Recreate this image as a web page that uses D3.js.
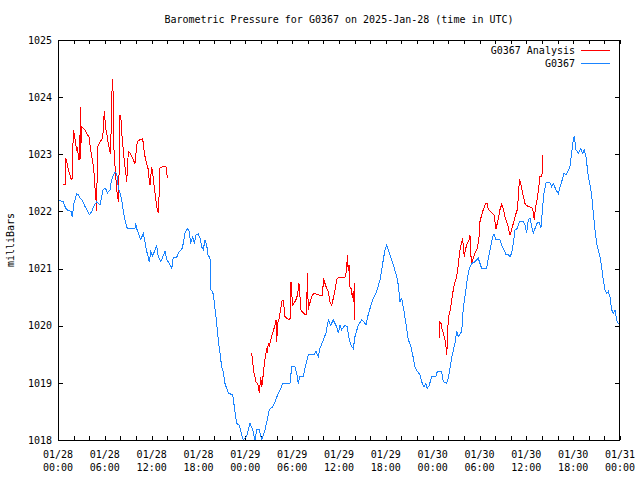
<!DOCTYPE html>
<html>
<head>
<meta charset="utf-8">
<script src="https://cdn.jsdelivr.net/npm/d3@7"></script>
<style>
html, body { margin: 0; padding: 0; background: #fff; }
svg { display: block; }
text { font-family: "DejaVu Sans Mono", "Liberation Mono", monospace; font-size: 10px; fill: #000; }
</style>
</head>
<body>
<div id="chart"></div>
<script>
// ---- data (hours since 2025-01-28 00:00 UTC, pressure in millibars) ----
const titleText = "Barometric Pressure for G0367 on 2025-Jan-28 (time in UTC)";
const yLabelText = "milliBars";
const seriesNames = ["G0367 Analysis", "G0367"];
const yTicks = [1018, 1019, 1020, 1021, 1022, 1023, 1024, 1025];
const xTickHours = [0, 6, 12, 18, 24, 30, 36, 42, 48, 54, 60, 66, 72];
const xTickDates = ["01/28","01/28","01/28","01/28","01/29","01/29","01/29","01/29","01/30","01/30","01/30","01/30","01/31"];
const xTickTimes = ["00:00","06:00","12:00","18:00","00:00","06:00","12:00","18:00","00:00","06:00","12:00","18:00","00:00"];

const obsHours = [0,0.68,0.81,1.11,1.67,1.83,2.05,2.40,2.60,2.82,3.11,3.37,3.68,4.01,4.32,4.65,4.96,5.38,5.68,5.80,6.11,6.32,6.66,6.79,7.01,7.30,7.52,7.72,7.94,8.16,8.37,8.58,8.88,9.86,9.95,10.08,10.29,10.59,10.93,11.15,11.36,11.57,11.70,11.88,12.13,12.43,12.64,12.85,13.16,13.41,13.71,13.93,14.13,14.35,14.57,14.77,15.21,15.54,15.85,16.05,16.27,16.56,16.82,17.00,17.26,17.46,17.68,17.97,18.19,18.41,18.61,18.83,19.05,19.25,19.47,19.56,19.82,19.98,20.24,20.54,20.75,20.97,21.18,21.39,21.82,22.38,22.59,22.89,23.23,23.53,23.74,24.17,24.60,24.94,25.24,25.46,25.79,26.10,26.52,26.81,27.07,27.50,27.80,28.22,28.53,28.79,29.72,29.94,30.36,30.58,30.78,31.00,31.42,31.64,32.07,32.80,33.05,33.35,33.56,33.99,34.33,34.63,34.93,35.27,35.70,35.91,36.13,36.34,36.77,37.06,37.32,37.62,37.83,38.05,38.47,38.91,39.20,39.46,39.68,39.97,40.39,40.83,41.25,41.60,41.89,42.11,42.44,42.75,43.04,43.39,43.60,43.81,44.03,44.33,44.58,44.88,45.18,45.44,45.73,46.03,46.38,46.59,46.89,47.14,47.31,47.57,47.87,48.42,48.59,49.15,49.36,49.80,50.05,50.31,50.56,50.86,51.08,51.28,51.72,51.92,52.14,52.36,52.56,52.78,53.00,53.42,53.84,54.06,54.28,54.92,55.12,55.43,55.69,55.85,56.11,56.62,56.84,57.14,57.39,57.69,57.90,58.12,58.33,58.55,58.84,59.10,59.61,59.83,60.04,60.25,60.47,60.69,60.89,61.11,61.40,61.66,61.88,62.09,62.26,62.52,63.03,63.25,63.45,63.80,64.09,64.31,64.53,64.82,65.08,65.30,65.59,65.81,66.01,66.14,66.36,66.65,66.96,67.22,67.42,67.64,67.94,68.15,68.37,68.58,68.79,69.01,69.22,69.43,69.65,69.86,70.07,70.29,70.50,70.71,70.93,71.14,71.36,71.57,71.78,72.00];
const obsPressure = [1022.20,1022.17,1022.11,1022.03,1022.00,1021.91,1022.14,1022.31,1022.29,1022.23,1022.20,1022.11,1022.03,1021.94,1022.00,1022.11,1022.17,1022.11,1022.32,1022.39,1022.40,1022.32,1022.38,1022.49,1022.61,1022.68,1022.67,1022.43,1022.32,1022.20,1022.00,1021.85,1021.70,1021.70,1021.80,1021.70,1021.62,1021.51,1021.61,1021.47,1021.30,1021.21,1021.11,1021.30,1021.22,1021.33,1021.40,1021.21,1021.12,1021.20,1021.30,1021.15,1021.12,1021.06,1021.00,1021.20,1021.20,1021.30,1021.33,1021.44,1021.62,1021.70,1021.65,1021.44,1021.56,1021.44,1021.59,1021.61,1021.53,1021.38,1021.33,1021.50,1021.41,1021.21,1021.20,1020.63,1020.60,1020.45,1020.16,1019.75,1019.52,1019.28,1019.20,1018.99,1018.82,1018.79,1018.58,1018.29,1018.26,1018.09,1018.00,1018.06,1018.29,1018.18,1018.00,1018.18,1018.18,1018.00,1018.18,1018.35,1018.53,1018.58,1018.67,1018.82,1018.90,1018.99,1018.99,1019.28,1019.28,1019.17,1018.99,1019.11,1019.11,1019.25,1019.49,1019.49,1019.55,1019.46,1019.60,1019.75,1019.87,1020.10,1020.01,1020.10,1019.98,1019.87,1020.01,1019.93,1020.01,1019.98,1019.75,1019.63,1019.60,1019.81,1020.01,1020.10,1020.07,1020.01,1020.16,1020.30,1020.48,1020.60,1020.80,1021.09,1021.33,1021.41,1021.27,1021.15,1021.03,1020.86,1020.71,1020.42,1020.48,1020.25,1020.04,1019.75,1019.66,1019.49,1019.28,1019.20,1019.14,1019.02,1018.93,1018.99,1018.90,1018.96,1019.11,1019.11,1019.20,1019.20,1019.02,1018.99,1019.11,1019.34,1019.52,1019.69,1019.90,1019.81,1019.90,1020.30,1020.51,1020.74,1020.92,1021.03,1021.09,1021.12,1021.18,1021.09,1021.00,1021.00,1021.18,1021.38,1021.56,1021.60,1021.51,1021.51,1021.41,1021.33,1021.24,1021.24,1021.21,1021.27,1021.44,1021.68,1021.70,1021.82,1021.82,1021.76,1021.62,1021.85,1021.88,1021.73,1021.62,1021.70,1021.80,1021.80,1021.72,1022.08,1022.32,1022.50,1022.50,1022.43,1022.49,1022.38,1022.31,1022.43,1022.52,1022.67,1022.64,1022.70,1022.78,1023.02,1023.25,1023.31,1023.08,1023.02,1023.10,1023.02,1023.08,1022.96,1022.61,1022.46,1022.29,1021.97,1021.68,1021.44,1021.33,1021.21,1021.03,1020.80,1020.63,1020.57,1020.60,1020.51,1020.28,1020.22,1020.28,1020.10,1020.04,1020.01];

// null marks a gap between analysis runs
const anaHours = [0.60,0.90,0.99,1.11,1.32,1.54,1.67,1.83,1.96,2.09,2.27,2.40,2.47,2.60,2.69,2.73,2.82,2.91,2.98,3.04,3.24,3.46,3.75,3.97,4.10,4.32,4.52,4.65,4.78,4.87,4.96,5.05,5.16,5.38,5.73,5.93,6.02,6.15,6.32,6.44,6.66,6.75,6.83,6.96,7.05,7.08,7.21,7.39,7.52,7.65,7.72,7.81,7.85,7.94,8.07,8.16,8.29,8.37,8.58,8.71,8.80,8.93,9.01,9.22,9.44,9.65,9.86,9.99,10.16,10.42,10.85,11.02,11.15,11.36,11.57,11.70,11.79,12.00,12.13,12.30,12.43,12.64,12.85,12.98,13.07,13.49,13.84,13.93,14.00,
  null,
  24.81,24.94,25.11,25.37,25.66,25.79,25.97,26.10,26.22,26.39,26.56,26.74,26.81,26.94,27.07,27.25,27.50,27.80,27.93,28.02,28.14,28.35,28.53,28.73,28.86,29.08,29.30,29.72,29.85,29.94,30.07,30.23,30.58,30.78,30.87,31.00,31.13,31.22,31.64,31.86,31.94,32.07,32.19,32.50,32.80,33.35,33.91,33.99,34.20,34.42,34.63,34.85,35.06,35.27,35.49,35.70,35.91,36.77,36.99,37.06,37.19,37.28,37.41,37.62,37.70,37.83,37.92,37.96,38.05,
  null,
  48.85,48.94,49.07,49.16,49.36,49.58,49.71,49.80,49.87,50.00,50.22,50.44,50.64,50.86,51.08,51.28,51.50,51.72,51.85,51.92,52.05,52.23,52.43,52.65,52.78,52.87,53.00,53.20,53.42,53.72,53.97,54.06,54.28,54.48,54.79,55.00,55.12,55.56,55.85,56.11,56.28,56.46,56.62,56.84,57.05,57.26,57.48,57.69,57.90,58.12,58.33,58.55,58.84,59.02,59.10,59.27,59.53,59.83,60.04,60.47,60.81,61.02,61.15,61.33,61.53,61.75,62.00,62.09];
const anaPressure = [1022.47,1022.47,1022.93,1022.87,1022.73,1022.64,1022.56,1022.58,1023.43,1023.34,1023.19,1023.05,1023.13,1022.99,1022.90,1023.34,1022.90,1023.82,1023.19,1023.48,1023.45,1023.43,1023.34,1023.31,1023.16,1022.96,1022.81,1022.61,1022.32,1022.20,1022.00,1023.13,1023.16,1023.22,1023.28,1023.76,1023.60,1023.43,1023.31,1023.19,1023.05,1023.01,1023.65,1024.31,1024.10,1023.43,1022.96,1022.64,1022.38,1022.26,1022.17,1022.55,1023.08,1023.69,1023.60,1023.37,1023.19,1023.05,1022.78,1022.64,1022.52,1022.84,1023.05,1023.02,1022.96,1022.90,1022.84,1023.02,1023.22,1023.25,1023.27,1023.08,1022.96,1022.84,1022.73,1022.52,1022.46,1022.78,1022.67,1022.46,1022.32,1022.08,1021.97,1022.38,1022.77,1022.78,1022.78,1022.70,1022.58,
  null,
  1019.52,1019.37,1019.17,1019.02,1018.96,1018.82,1019.11,1018.93,1019.05,1019.28,1019.46,1019.60,1019.52,1019.69,1019.63,1019.75,1019.87,1020.01,1020.10,1019.72,1020.04,1020.13,1020.30,1020.45,1020.45,1020.16,1020.13,1020.10,1020.77,1020.57,1020.36,1020.39,1020.48,1020.63,1020.74,1020.51,1020.28,1020.25,1020.20,1020.19,1020.92,1020.28,1020.36,1020.51,1020.57,1020.54,1020.52,1020.83,1020.74,1020.65,1020.60,1020.42,1020.36,1020.48,1020.63,1020.80,1020.85,1020.85,1020.98,1021.24,1020.95,1021.06,1020.68,1020.63,1020.48,1020.60,1020.42,1020.74,1020.10,
  null,
  1019.78,1020.07,1020.04,1019.95,1019.87,1019.75,1019.63,1019.49,1019.66,1020.13,1020.25,1020.45,1020.63,1020.77,1020.86,1021.06,1021.33,1021.47,1021.53,1021.38,1021.21,1021.35,1021.44,1021.50,1021.58,1021.27,1021.09,1021.18,1021.27,1021.35,1021.59,1021.82,1021.94,1022.03,1022.14,1022.14,1022.04,1021.98,1021.94,1021.70,1021.79,1021.91,1022.03,1022.12,1022.05,1021.91,1021.82,1021.72,1021.59,1021.68,1021.79,1021.91,1022.03,1022.32,1022.56,1022.49,1022.32,1022.14,1022.10,1022.08,1022.05,1021.85,1022.05,1022.17,1022.35,1022.61,1022.62,1022.99];

const colors = ["#ff0000", "#1a84ff"];

// ---- layout ----
const W = 640, H = 480;
const M = { left: 58, right: 20, top: 40, bottom: 40 };

const svg = d3.select("#chart").append("svg").attr("width", W).attr("height", H);

const x = d3.scaleLinear().domain([0, 72]).range([M.left, W - M.right]);
const y = d3.scaleLinear().domain([1018, 1025]).range([H - M.bottom, M.top]);

const minorHours = d3.range(0, 73, 2);

// axes (ticks point inward)
const gB = svg.append("g").attr("transform", `translate(0,${H - M.bottom})`)
  .call(d3.axisBottom(x).tickValues(minorHours).tickSize(-4).tickSizeOuter(0).tickFormat(""));
const gT = svg.append("g").attr("transform", `translate(0,${M.top})`)
  .call(d3.axisTop(x).tickValues(minorHours).tickSize(-4).tickSizeOuter(0).tickFormat(""));
const gL = svg.append("g").attr("transform", `translate(${M.left},0)`)
  .call(d3.axisLeft(y).tickValues(yTicks).tickSize(-5).tickSizeOuter(0).tickPadding(6).tickFormat(d3.format("d")));
const gR = svg.append("g").attr("transform", `translate(${W - M.right},0)`)
  .call(d3.axisRight(y).tickValues(yTicks).tickSize(-5).tickSizeOuter(0).tickFormat(""));

[gB, gT, gL, gR].forEach(g => {
  g.select(".domain").remove();
  g.selectAll("line").attr("stroke", "#000").attr("shape-rendering", "crispEdges");
  g.selectAll("text").attr("font-family", null).attr("font-size", null);
});
gL.selectAll("text").attr("fill", "#000");

// two-line x labels
const xl = svg.append("g");
xTickHours.forEach((h, i) => {
  const t = xl.append("text").attr("text-anchor", "middle").attr("x", x(h));
  t.append("tspan").attr("x", x(h)).attr("y", H - M.bottom + 18).text(xTickDates[i]);
  t.append("tspan").attr("x", x(h)).attr("y", H - M.bottom + 31).text(xTickTimes[i]);
});

// lines
const obs = obsHours.map((h, i) => ({ h, p: obsPressure[i] }));
const ana = anaHours.map((h, i) => ({ h, p: anaPressure[i] }));

const line = d3.line()
  .defined(d => d.h !== null && d.p !== null)
  .x(d => x(d.h))
  .y(d => y(d.p));

const clip = svg.append("clipPath").attr("id", "clip").append("rect")
  .attr("x", M.left).attr("y", M.top).attr("width", W - M.left - M.right).attr("height", H - M.top - M.bottom);

const plot = svg.append("g").attr("clip-path", "url(#clip)");
plot.append("path").datum(ana).attr("d", line)
  .attr("fill", "none").attr("stroke", colors[0]).attr("stroke-width", 1).attr("shape-rendering", "crispEdges");
plot.append("path").datum(obs).attr("d", line)
  .attr("fill", "none").attr("stroke", colors[1]).attr("stroke-width", 1).attr("shape-rendering", "crispEdges");

// frame
svg.append("rect").attr("x", M.left + 0.5).attr("y", M.top + 0.5)
  .attr("width", W - M.left - M.right - 1).attr("height", H - M.top - M.bottom)
  .attr("fill", "none").attr("stroke", "#000").attr("shape-rendering", "crispEdges");

// title
svg.append("text").attr("x", (M.left + W - M.right) / 2).attr("y", 23)
  .attr("text-anchor", "middle").text(titleText);

// y label
svg.append("text").attr("transform", `translate(14,${(M.top + H - M.bottom) / 2}) rotate(-90)`)
  .attr("text-anchor", "middle").text(yLabelText);

// legend
const leg = svg.append("g");
seriesNames.forEach((name, i) => {
  const ly = 50 + i * 13;
  leg.append("text").attr("x", 575).attr("y", ly + 3.5).attr("text-anchor", "end").text(name);
  leg.append("line").attr("x1", 581).attr("x2", 610).attr("y1", ly).attr("y2", ly)
    .attr("stroke", colors[i]).attr("stroke-width", 1).attr("shape-rendering", "crispEdges");
});
</script>
</body>
</html>
